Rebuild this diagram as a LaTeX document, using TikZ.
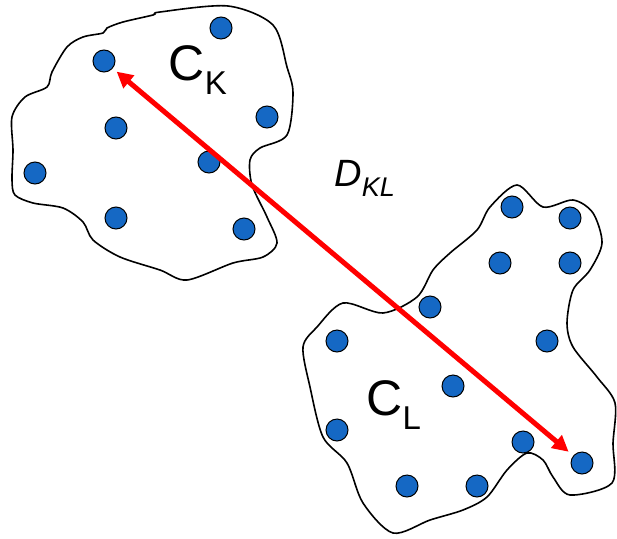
\documentclass[tikz,border=0pt]{standalone}
\usepackage{fontspec}
\setmainfont{Liberation Sans}
\usetikzlibrary{arrows.meta}
\definecolor{ptblue}{RGB}{21,104,196}
\definecolor{distred}{RGB}{255,0,0}

\begin{document}
\begin{tikzpicture}[x=1pt, y=-1pt,
    pt/.style={circle, draw=black, line width=1pt, fill=ptblue, minimum size=22pt, inner sep=0pt},
    blob/.style={draw=black, line width=1.6pt},
    dist/.style={distred, line width=5pt, {Triangle[length=16pt,width=16pt]}-{Triangle[length=16pt,width=16pt]}, shorten <=5pt, shorten >=6pt}]
    \useasboundingbox (0,0) rectangle (617,538);
    % cluster outlines
    \draw[blob] plot[smooth cycle, tension=0.5] coordinates {
        (160,12) (228,6) (273,25) (287,67) (293,93) (287,135) (260,148) (250,160)
        (252,185) (267,217) (277,243) (263,257) (233,263) (187,280) (160,270)
        (120,257) (93,240) (83,222) (63,208) (33,203) (15,195) (12,180) (13,150)
        (12,117) (25,97) (47,87) (52,72) (67,47) (83,37) (103,33) (107,28)
        (123,22) (153,15)};
    \draw[blob] plot[smooth cycle, tension=0.5] coordinates {
        (517,185) (543,207) (573,200) (593,213) (602,243) (590,270) (573,290)
        (567,323) (573,347) (597,377) (615,403) (613,443) (612,483) (570,495)
        (553,477) (543,460) (527,453) (507,470) (487,497) (463,510) (430,520)
        (393,533) (363,503) (347,463) (323,437) (310,387) (303,347) (317,327)
        (343,303) (383,313) (417,297) (433,270) (450,253) (477,230) (490,207)};
    % points of C_K
    \foreach \n/\x/\y in {1/221/28, 2/104/61, 3/116/128, 4/267/117,
                          5/209/162, 6/35/173, 7/116/218, 8/244/229} {
        \node[pt] (k\n) at (\x,\y) {};
    }
    % points of C_L
    \foreach \n/\x/\y in {1/512/207, 2/570/218, 3/500/263, 4/570/263,
                          5/430/307, 6/337/341, 7/547/341, 8/453/386,
                          9/337/430, 10/523/442, 11/582/463, 12/407/486, 13/477/486} {
        \node[pt] (l\n) at (\x,\y) {};
    }
    % labels
    \node[font=\fontsize{50}{50}\selectfont] (ck) at (198,70) {C\textsubscript{\fontsize{33}{33}\selectfont K}};
    \node[font=\fontsize{50}{50}\selectfont] (cl) at (394,405) {C\textsubscript{\fontsize{33}{33}\selectfont L}};
    \node[font=\fontsize{38}{38}\selectfont\itshape] (dkl) at (365,178) {D\textsubscript{\fontsize{27}{27}\selectfont KL}};
    % distance
    \draw[dist] (k2) -- (l11);
\end{tikzpicture}
\end{document}
